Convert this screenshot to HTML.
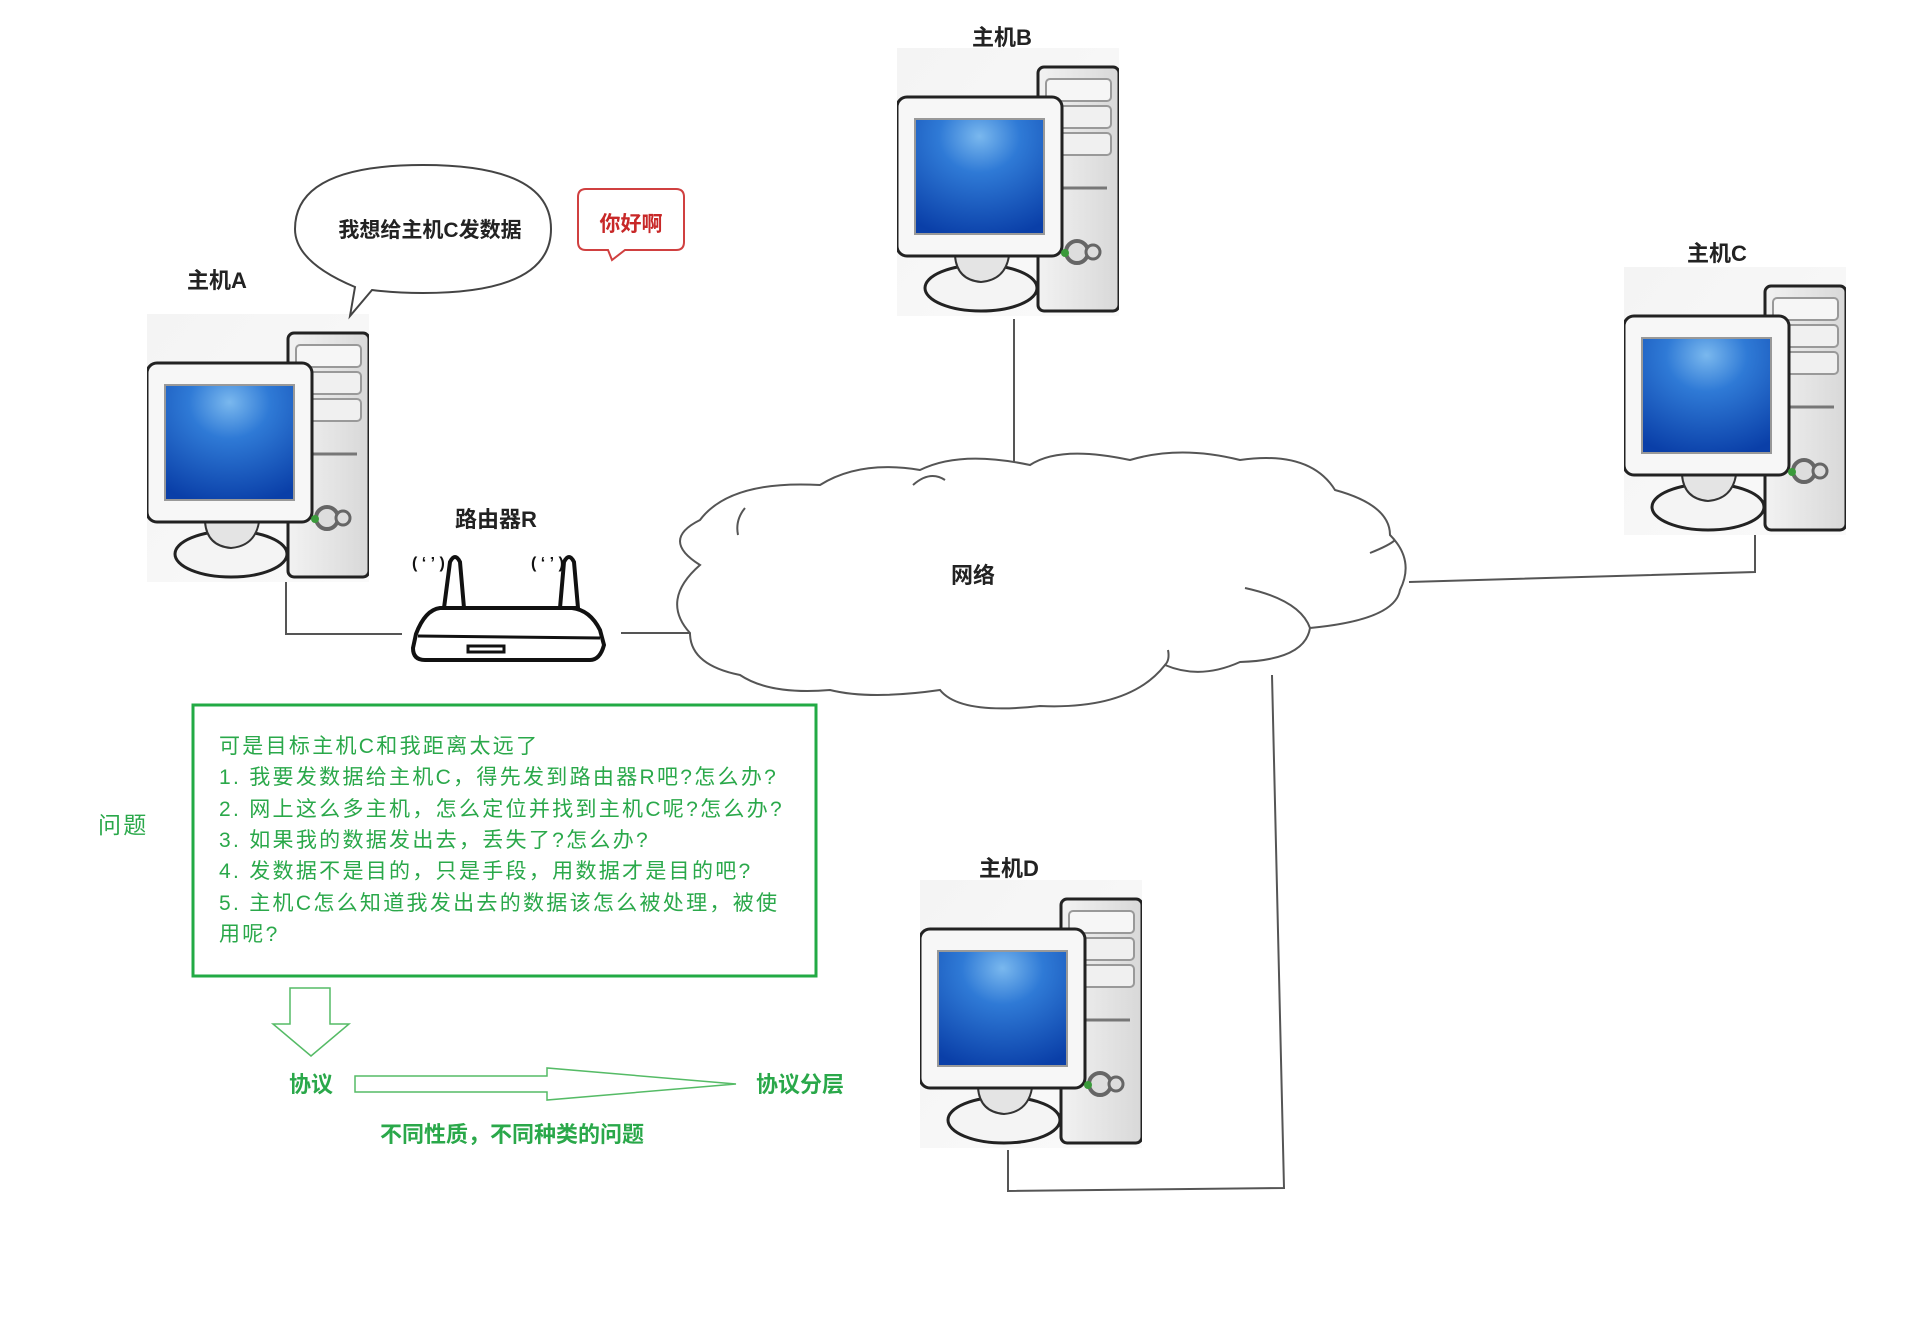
<!DOCTYPE html>
<html><head><meta charset="utf-8"><style>
body{margin:0;background:#fff;}
svg{display:block}
text{font-family:"Liberation Sans","Noto Sans CJK SC",sans-serif;}
</style></head><body>
<svg width="1908" height="1328" viewBox="0 0 1908 1328" xmlns="http://www.w3.org/2000/svg">
<defs>
<linearGradient id="bg" x1="0" y1="0" x2="1" y2="1"><stop offset="0" stop-color="#f4f4f4"/><stop offset="1" stop-color="#fafafa"/></linearGradient>
<radialGradient id="scr" cx="0.5" cy="0.15" r="0.9"><stop offset="0" stop-color="#7ab8ee"/><stop offset="0.35" stop-color="#2f7ad6"/><stop offset="1" stop-color="#0a3fa8"/></radialGradient>
<linearGradient id="tw" x1="0" y1="0" x2="1" y2="0"><stop offset="0" stop-color="#f2f2f2"/><stop offset="1" stop-color="#d8d8d8"/></linearGradient>
<symbol id="pc" viewBox="0 0 222 268">
<rect x="0" y="0" width="222" height="268" fill="url(#bg)"/>
<rect x="141" y="19" width="81" height="244" rx="6" fill="url(#tw)" stroke="#222" stroke-width="3"/>
<rect x="149" y="31" width="65" height="22" rx="4" fill="#f6f6f6" stroke="#999" stroke-width="2"/>
<rect x="149" y="58" width="65" height="22" rx="4" fill="#f0f0f0" stroke="#999" stroke-width="2"/>
<rect x="149" y="85" width="65" height="22" rx="4" fill="#f0f0f0" stroke="#999" stroke-width="2"/>
<line x1="152" y1="140" x2="210" y2="140" stroke="#777" stroke-width="3"/>
<ellipse cx="84" cy="240" rx="56" ry="23" fill="#f4f4f4" stroke="#222" stroke-width="3"/>
<path d="M58 208 Q60 232 84 234 Q108 232 112 208Z" fill="#e4e4e4" stroke="#333" stroke-width="2"/>
<rect x="0" y="49" width="165" height="159" rx="10" fill="#f7f7f7" stroke="#222" stroke-width="3"/>
<rect x="18" y="71" width="129" height="115" fill="url(#scr)" stroke="#999" stroke-width="2"/>
<circle cx="180" cy="204" r="11" fill="#ddd" stroke="#666" stroke-width="4"/>
<circle cx="196" cy="204" r="7" fill="#ddd" stroke="#666" stroke-width="3"/>
<circle cx="168" cy="205" r="4" fill="#3a9a3a"/>
</symbol>
</defs>

<g stroke="#555" stroke-width="2" fill="none">
<polyline points="286,582 286,634 402,634"/>
<line x1="621" y1="633" x2="690" y2="633"/>
<line x1="1014" y1="319" x2="1014" y2="470"/>
<polyline points="1409,582 1755,572 1755,535"/>
<polyline points="1272,675 1284,1188 1008,1191 1008,1150"/>
</g>

<use href="#pc" x="147" y="314" width="222" height="268"/>
<use href="#pc" x="897" y="48" width="222" height="268"/>
<use href="#pc" x="1624" y="267" width="222" height="268"/>
<use href="#pc" x="920" y="880" width="222" height="268"/>

<path d="M350,316 L355,287 Q295,262 295,229 Q295,165 423,165 Q551,165 551,229 Q551,293 423,293 Q395,293 372,290 Z" fill="#fff" stroke="#444" stroke-width="2"/>
<text x="430" y="237" font-size="21" font-weight="bold" fill="#222" text-anchor="middle">我想给主机C发数据</text>
<path d="M586,189 H676 Q684,189 684,197 V242 Q684,250 676,250 H625 L612,260 L608,250 H586 Q578,250 578,242 V197 Q578,189 586,189Z" fill="#fff" stroke="#d04040" stroke-width="2"/>
<text x="631" y="231" font-size="21" font-weight="bold" fill="#c82828" text-anchor="middle">你好啊</text>

<g stroke="#111" stroke-width="4" fill="#fff">
<path d="M444,608 L450,562 Q455,552 460,562 L464,608Z"/>
<path d="M560,608 L564,562 Q569,552 574,562 L578,608Z"/>
<path d="M440,608 H572 Q590,610 600,630 L604,645 Q600,660 590,660 H425 Q413,660 413,648 L416,634 Q425,610 440,608Z"/>
<line x1="418" y1="636" x2="600" y2="638" stroke-width="3"/>
<rect x="468" y="646" width="36" height="6" stroke-width="3"/>
</g>
<g font-size="16" fill="#111" font-weight="bold"><text x="412" y="568">( ‘ ʼ )</text><text x="531" y="568">( ‘ ʼ )</text></g>

<path d="M690,633 Q660,600 700,565 Q660,540 700,520 Q730,480 820,485 Q860,460 920,470 Q960,450 1030,465 Q1060,445 1130,460 Q1180,445 1240,460 Q1310,450 1335,490 Q1390,505 1390,535 Q1415,560 1400,590 Q1395,620 1310,628 Q1305,660 1240,662 Q1200,680 1165,665 Q1130,710 1040,706 Q960,715 940,690 Q870,700 830,690 Q770,695 740,675 Q690,665 690,633Z" fill="#fff" stroke="#555" stroke-width="2"/>
<g fill="none" stroke="#555" stroke-width="2">
<path d="M913,485 Q930,470 945,480"/>
<path d="M1245,588 Q1300,600 1310,628"/>
<path d="M1370,553 Q1390,545 1395,540"/>
<path d="M738,535 Q735,520 745,508"/>
<path d="M1165,665 Q1170,660 1168,650"/>
</g>

<g font-weight="bold" font-size="22" fill="#222" text-anchor="middle">
<text x="217" y="288">主机A</text>
<text x="1002" y="45">主机B</text>
<text x="1717" y="261">主机C</text>
<text x="1009" y="876">主机D</text>
<text x="496" y="527">路由器R</text>
<text x="973" y="583">网络</text>
</g>

<rect x="193" y="705" width="623" height="271" fill="none" stroke="#22aa44" stroke-width="3"/>
<g font-size="21" fill="#2aa84a" letter-spacing="2.3">
<text x="219" y="753">可是目标主机C和我距离太远了</text>
<text x="219" y="784">1. 我要发数据给主机C，得先发到路由器R吧?怎么办?</text>
<text x="219" y="816">2. 网上这么多主机，怎么定位并找到主机C呢?怎么办?</text>
<text x="219" y="847">3. 如果我的数据发出去，丢失了?怎么办?</text>
<text x="219" y="878">4. 发数据不是目的，只是手段，用数据才是目的吧?</text>
<text x="219" y="910">5. 主机C怎么知道我发出去的数据该怎么被处理，被使</text>
<text x="219" y="941">用呢?</text>
<text x="98" y="833" font-size="23">问题</text>
</g>
<path d="M290,988 H330 V1024 H349 L311,1056 L273,1024 H290Z" fill="#fff" stroke="#55bb66" stroke-width="1.5"/>
<path d="M355,1076 H547 L547,1068 L736,1084 L547,1100 L547,1092 H355Z" fill="#fff" stroke="#55bb66" stroke-width="1.5"/>
<g font-size="22" font-weight="bold" fill="#2aa84a" text-anchor="middle">
<text x="311" y="1092">协议</text>
<text x="800" y="1092">协议分层</text>
<text x="512" y="1142">不同性质，不同种类的问题</text>
</g>
</svg>
</body></html>
